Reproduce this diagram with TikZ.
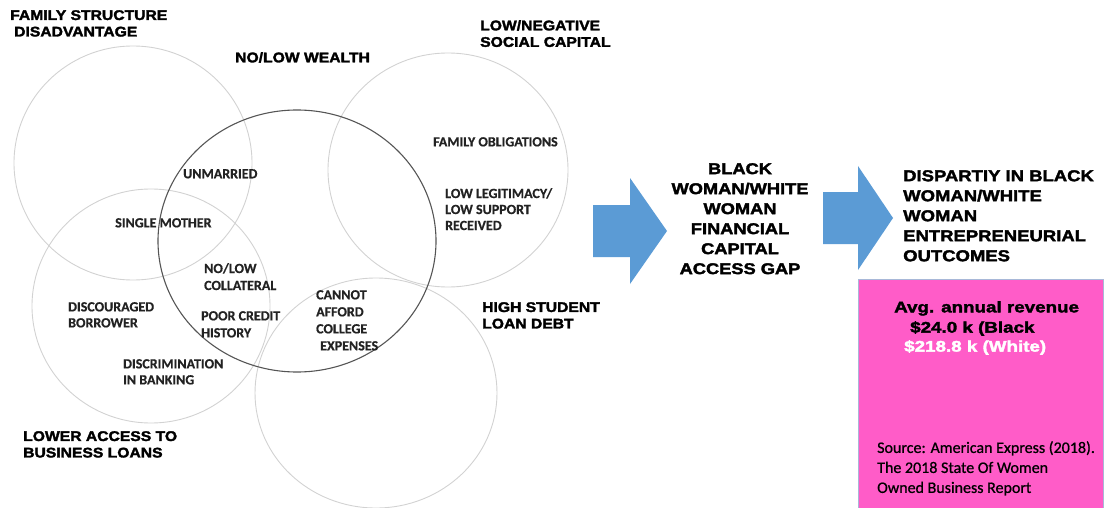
\documentclass[tikz,border=0pt]{standalone}
\usepackage{fontspec}
\setmainfont{Liberation Sans}
% heavy display faces for the headings
\newfontfamily\heavy[FakeStretch=1.12,FakeBold=2.2]{Liberation Sans Bold}
\newfontfamily\heavywide[FakeStretch=1.17,FakeBold=2.2]{Liberation Sans Bold}
\newfontfamily\heavyboxed[FakeStretch=1.22,FakeBold=2.2]{Liberation Sans Bold}
% faces for the labels inside the circles and the source note
\newfontfamily\lbl[FakeBold=0.6]{Carlito Bold}
\newfontfamily\note[FakeBold=0.8]{Carlito}
\definecolor{ringgray}{HTML}{D2D2D2}
\definecolor{ringdark}{HTML}{555555}
\definecolor{arrowblue}{HTML}{5B9BD5}
\definecolor{boxpink}{HTML}{FF5CC8}
\definecolor{boxedge}{HTML}{A8B8D8}
\definecolor{labelink}{HTML}{222222}
\begin{document}
\begin{tikzpicture}[x=1pt,y=-1pt,
  ring/.style={draw=ringgray,line width=0.9pt},
  darkring/.style={draw=ringdark,line width=1.1pt},
  heading/.style={anchor=north west,inner sep=0pt,align=left,text=black,
    font=\heavy\fontsize{14}{16.5}\selectfont},
  inlabel/.style={anchor=north west,inner sep=0pt,align=left,text=labelink,
    font=\lbl\fontsize{14}{16.5}\selectfont},
  blockarrow/.style={fill=arrowblue,draw=none},
  outcome/.style={inner sep=0pt,text=black,
    font=\heavywide\fontsize{15.6}{20}\selectfont},
  boxtext/.style={anchor=north west,inner sep=0pt,
    font=\heavyboxed\fontsize{15.4}{19}\selectfont}]
\useasboundingbox (0,0) rectangle (1105,508);

% overlapping factor circles
\draw[ring] (133,163) ellipse [x radius=119,y radius=117];
\draw[ring] (448,170) ellipse [x radius=120,y radius=117];
\draw[ring] (151,306) ellipse [x radius=119,y radius=117];
\draw[ring] (376,393) ellipse [x radius=121,y radius=115];
\draw[darkring] (297,241) ellipse [x radius=139,y radius=131];

% circle headings
\node[heading] (famhead) at (10,10) {FAMILY STRUCTURE\\\hspace{4pt}DISADVANTAGE};
\node[heading] (wealthhead) at (235,52) {NO/LOW WEALTH};
\node[heading] (socialhead) at (480,20) {LOW/NEGATIVE\\SOCIAL CAPITAL};
\node[heading] (studenthead) at (482,302) {HIGH STUDENT\\LOAN DEBT};
\node[heading] (loanshead) at (23,431) {LOWER ACCESS TO\\BUSINESS LOANS};

% labels inside the circles
\node[inlabel] (unmarried) at (183,169) {UNMARRIED};
\node[inlabel] (single) at (115,218) {SINGLE MOTHER};
\node[inlabel] (famob) at (433,137) {FAMILY OBLIGATIONS};
\node[inlabel,font=\lbl\fontsize{14}{16}\selectfont] (legit) at (445,188)
  {LOW LEGITIMACY/\\LOW SUPPORT\\RECEIVED};
\node[inlabel,font=\lbl\fontsize{14}{17}\selectfont] (collateral) at (204,263)
  {NO/LOW\\COLLATERAL};
\node[inlabel,font=\lbl\fontsize{14}{16}\selectfont] (discouraged) at (68,302)
  {DISCOURAGED\\BORROWER};
\node[inlabel,font=\lbl\fontsize{14}{17}\selectfont] (credit) at (201,311)
  {POOR CREDIT\\HISTORY};
\node[inlabel,font=\lbl\fontsize{14}{16}\selectfont] (discrim) at (123,359)
  {DISCRIMINATION\\IN BANKING};
\node[inlabel,font=\lbl\fontsize{14}{17}\selectfont] (college) at (316,290)
  {CANNOT\\AFFORD\\COLLEGE\\\hspace{4pt}EXPENSES};

% block arrows
\fill[blockarrow] (593,205) -- (630,205) -- (630,178) -- (667,231)
  -- (630,284) -- (630,257) -- (593,257) -- cycle;
\fill[blockarrow] (823,192) -- (858,192) -- (858,166) -- (893,218)
  -- (858,270) -- (858,244) -- (823,244) -- cycle;

% gap and outcome statements
\node[outcome,anchor=north,align=center] (gap) at (740,163)
  {BLACK\\WOMAN/WHITE\\WOMAN\\FINANCIAL\\CAPITAL\\ACCESS GAP};
\node[outcome,anchor=north west,align=left,font=\heavywide\fontsize{15.8}{20}\selectfont]
  (disparity) at (903,170)
  {DISPARTIY IN BLACK\\WOMAN/WHITE\\WOMAN\\ENTREPRENEURIAL\\OUTCOMES};

% revenue box
\draw[fill=boxpink,draw=boxedge,line width=1pt] (858,279) rectangle (1103,512);
\node[boxtext,text=black] (avg) at (894,301) {Avg. annual revenue};
\node[boxtext,text=black] (blackrev) at (910,321) {\$24.0 k (Black};
\node[boxtext,text=white] (whiterev) at (904,340) {\$218.8 k (White)};
\node[anchor=north west,inner sep=0pt,align=left,text=black,
  font=\note\fontsize{16}{20}\selectfont] (source) at (877,441)
  {Source: American Express (2018).\\The 2018 State Of Women\\Owned Business Report};
\end{tikzpicture}
\end{document}
